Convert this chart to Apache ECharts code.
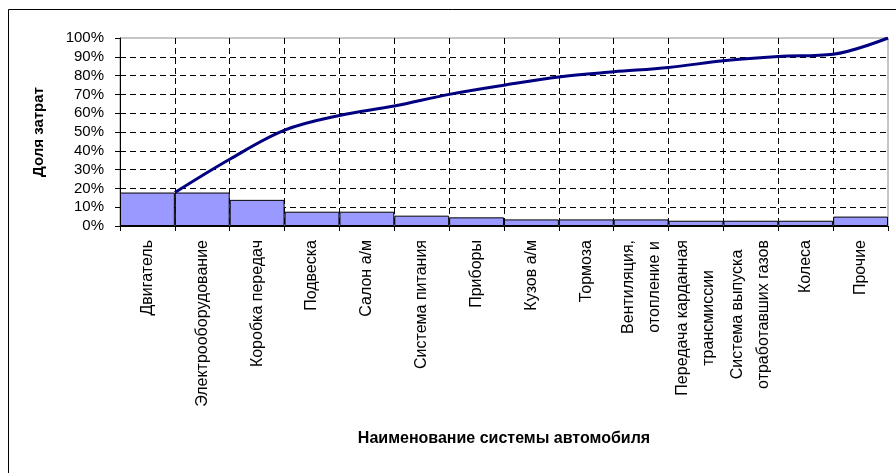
<!DOCTYPE html>
<html>
<head>
<meta charset="utf-8">
<script src="https://cdn.jsdelivr.net/npm/echarts@6/dist/echarts.min.js"></script>
<style>
  html, body { margin: 0; padding: 0; background: #fff; }
  #chart { width: 896px; height: 473px; }
</style>
</head>
<body>
<div id="chart"></div>
<script>
// Vehicle systems, ordered by their share of total cost
const categories = [
  'Двигатель', 'Электрооборудование', 'Коробка передач', 'Подвеска',
  'Салон а/м', 'Система питания', 'Приборы', 'Кузов а/м', 'Тормоза',
  'Вентиляция,\nотопление и', 'Передача карданная\nтрансмиссии',
  'Система выпуска\nотработавших газов', 'Колеса', 'Прочие'
];
// Share of each system in total cost, %
const shares = [17.8, 17.8, 13.9, 7.6, 7.6, 5.5, 4.6, 3.5, 3.5, 3.5, 2.8, 2.8, 2.8, 5.0];
// Cumulative share, plotted at the right edge of each bar, %
const cumulative = [17.8, 35.5, 51.0, 58.8, 63.8, 70.0, 74.9, 79.3, 82.0, 84.3, 87.9, 90.2, 91.4, 100];
// Bar edges: 0 = left edge of the first bar, 14 = right edge of the last one
const edges = ['0', '1', '2', '3', '4', '5', '6', '7', '8', '9', '10', '11', '12', '13', '14'];
// Value axis ticks, %
const yTicks = [0, 10, 20, 30, 40, 50, 60, 70, 80, 90, 100];

const FONT = '"Liberation Sans", Arial, sans-serif';
const dashed = { color: '#000', width: 1, type: [6, 4] };

const chart = echarts.init(document.getElementById('chart'), null, { renderer: 'canvas' });

chart.setOption({
  animation: false,
  backgroundColor: '#fff',
  graphic: [{
    type: 'rect',
    shape: { x: 8.5, y: 9.5, width: 900, height: 480 },
    style: { fill: 'none', stroke: '#000', lineWidth: 1 },
    silent: true
  }],
  grid: {
    left: 120, right: 8, top: 38, bottom: 247,
    show: true, borderColor: '#8c8c8c', borderWidth: 1, backgroundColor: 'transparent'
  },
  xAxis: [{
    type: 'category',
    data: categories,
    boundaryGap: true,
    name: 'Наименование системы автомобиля',
    nameLocation: 'middle',
    nameGap: 205,
    nameTextStyle: { fontFamily: FONT, fontSize: 16, fontWeight: 'bold', color: '#000' },
    axisLine: { lineStyle: { color: '#000', width: 1 } },
    axisTick: { show: true, length: 5, lineStyle: { color: '#000' } },
    axisLabel: {
      interval: 0,
      rotate: 90,
      margin: 14,
      color: '#000',
      formatter: v => v.split('\n').map(s => '{c|' + s + '}').join('\n'),
      rich: { c: { align: 'center', fontFamily: FONT, fontSize: 16, color: '#000', lineHeight: 26 } }
    },
    splitLine: { show: true, showMinLine: false, showMaxLine: false, lineStyle: dashed }
  }, {
    type: 'category',
    data: edges,
    boundaryGap: false,
    show: false
  }],
  yAxis: {
    type: 'value',
    min: yTicks[0],
    max: yTicks[yTicks.length - 1],
    interval: yTicks[1] - yTicks[0],
    name: 'Доля затрат',
    nameLocation: 'middle',
    nameGap: 74,
    nameRotate: 90,
    nameTextStyle: { fontFamily: FONT, fontSize: 15, fontWeight: 'bold', color: '#000' },
    axisLine: { show: true, lineStyle: { color: '#000', width: 1 } },
    axisTick: { show: true, length: 5, lineStyle: { color: '#000' } },
    axisLabel: { formatter: '{value}%', margin: 16, fontFamily: FONT, fontSize: 15, color: '#000' },
    splitLine: { show: true, showMinLine: false, showMaxLine: false, lineStyle: dashed }
  },
  series: [{
    type: 'bar',
    xAxisIndex: 0,
    data: shares,
    barWidth: '100%',
    barCategoryGap: 0,
    itemStyle: { color: '#9999ff', borderColor: '#000', borderWidth: 1 },
    silent: true
  }, {
    type: 'line',
    xAxisIndex: 1,
    data: [null].concat(cumulative),
    smooth: 0.35,
    symbol: 'none',
    lineStyle: { color: '#000080', width: 3 },
    silent: true,
    z: 5
  }]
});
</script>
</body>
</html>
